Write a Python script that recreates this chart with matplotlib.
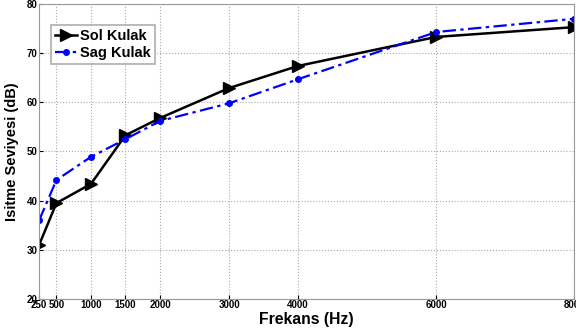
import matplotlib.pyplot as plt
import numpy as np

plt.rcParams.update({
    "font.family": "sans-serif",
    "font.sans-serif": ["Liberation Sans"],
    "font.weight": "bold",
    "axes.labelweight": "bold",
})

# ============================================================
# Data
# ============================================================
frekans = [250, 500, 1000, 1500, 2000, 3000, 4000, 6000, 8000]
sol_kulak = [31.0, 39.5, 43.4, 53.3, 56.8, 62.9, 67.4, 73.3, 75.3]
sag_kulak = [36.0, 44.2, 48.9, 52.5, 56.2, 59.8, 64.7, 74.3, 77.0]

fig = plt.figure(figsize=(5.76, 3.34), dpi=100)
ax = fig.add_axes([0.068, 0.105, 0.929, 0.883])

ax.plot(frekans, sol_kulak, color='black', linewidth=1.8,
        marker='>', markersize=8, label='Sol Kulak')
ax.plot(frekans, sag_kulak, color='blue', linewidth=1.6,
        dashes=(6, 2, 1.5, 2), marker='o', markersize=4, label='Sag Kulak')

ax.set_xlim(250, 8000)
ax.set_ylim(20, 80)
ax.set_xticks(frekans)
ax.set_xticklabels([str(f) for f in frekans])
ax.set_yticks(np.arange(20, 81, 10))
ax.tick_params(labelsize=7, length=3, direction='in', pad=1)
for lbl in ax.get_xticklabels() + ax.get_yticklabels():
    lbl.set_fontweight('bold')

ax.grid(True, linestyle=':', color='#aaaaaa', linewidth=0.8)
for s in ax.spines.values():
    s.set_color('#999999')

ax.set_xlabel('Frekans (Hz)', fontsize=11.3, labelpad=1)
ax.set_ylabel('Isitme Seviyesi (dB)', fontsize=10.5, labelpad=6)

leg = ax.legend(loc='upper left', bbox_to_anchor=(0.008, 0.955), fontsize=10.5,
                frameon=True, fancybox=False, edgecolor='#999999',
                handlelength=1.5, handletextpad=0.2, borderpad=0.3,
                labelspacing=0.2)
leg.get_frame().set_linewidth(1.2)
for t in leg.get_texts():
    t.set_fontweight('bold')

plt.savefig('out.png', dpi=100)
